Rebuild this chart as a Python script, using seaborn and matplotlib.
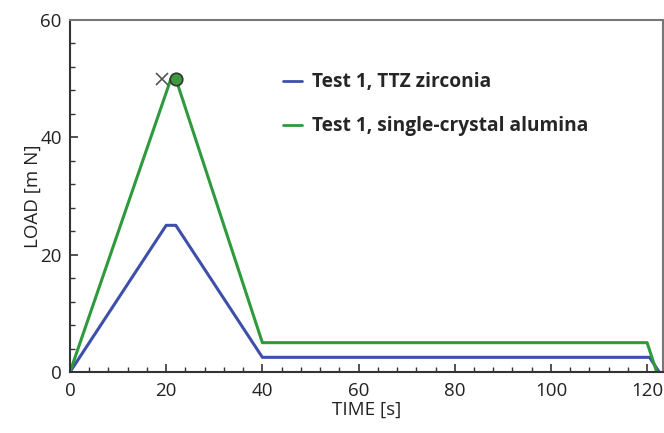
import pandas as pd
import seaborn as sns
import matplotlib.pyplot as plt
from matplotlib.ticker import MultipleLocator

# load profiles (time in s, load in mN)
time_ttz = [0, 20, 22, 40, 120.5, 122.5]
load_ttz = [0, 25, 25, 2.5, 2.5, 0]
time_alumina = [0, 21, 22, 40, 120, 122]
load_alumina = [0, 50, 50, 5, 5, 0]

labels = ['Test 1, TTZ zirconia', 'Test 1, single-crystal alumina']
colors = ['#3f4fa9', '#2e9a3b']

# marker points at the top of the alumina curve
cross_point = (19.2, 50)
circle_point = (22.0, 50)

df = pd.concat([
    pd.DataFrame({'time': time_ttz, 'load': load_ttz, 'test': labels[0]}),
    pd.DataFrame({'time': time_alumina, 'load': load_alumina, 'test': labels[1]}),
])

sns.set_style('ticks')
plt.rcParams['font.family'] = ['Open Sans', 'DejaVu Sans']

fig = plt.figure(figsize=(6.64, 4.33), dpi=100)
ax = fig.add_axes([70 / 664, 61 / 433, 592.5 / 664, 352 / 433])

sns.lineplot(data=df, x='time', y='load', hue='test', palette=colors,
             linewidth=2.2, sort=False, estimator=None, ax=ax)

ax.plot(*cross_point, marker='x', color='#555555', markersize=8, mew=1.2)
ax.plot(*circle_point, marker='o', color='#3f9a3f', markersize=9,
        markeredgecolor='#333333', mew=1.2)

ax.set_xlim(0, 123.2)
ax.set_ylim(0, 60)
ax.xaxis.set_major_locator(MultipleLocator(20))
ax.xaxis.set_minor_locator(MultipleLocator(4))
ax.yaxis.set_major_locator(MultipleLocator(20))
ax.yaxis.set_minor_locator(MultipleLocator(4))
ax.tick_params(which='both', direction='in', labelsize=13.5, colors='#333333',
               labelcolor='#222222')
ax.tick_params(which='major', length=6, width=1.2)
ax.tick_params(which='minor', length=3.5, width=1)
ax.tick_params(axis='x', which='major', pad=7)
ax.tick_params(axis='y', which='major', pad=6)
for side in ['left', 'bottom']:
    ax.spines[side].set_color('#333333')
    ax.spines[side].set_linewidth(1.5)
for side in ['top', 'right']:
    ax.spines[side].set_color('#777777')
    ax.spines[side].set_linewidth(1.5)

ax.set_xlabel('TIME [s]', fontsize=13.5, color='#222222', labelpad=1)
ax.set_ylabel('LOAD [m N]', fontsize=13.5, color='#222222', labelpad=-1)

leg = ax.legend(loc='upper left', bbox_to_anchor=(0.33, 0.9), frameon=False,
                handlelength=1.0, handletextpad=0.5, labelspacing=1.25,
                prop={'weight': 'bold', 'size': 13.8})
for line in leg.get_lines():
    line.set_linewidth(2)

fig.savefig('out.png', dpi=100)
